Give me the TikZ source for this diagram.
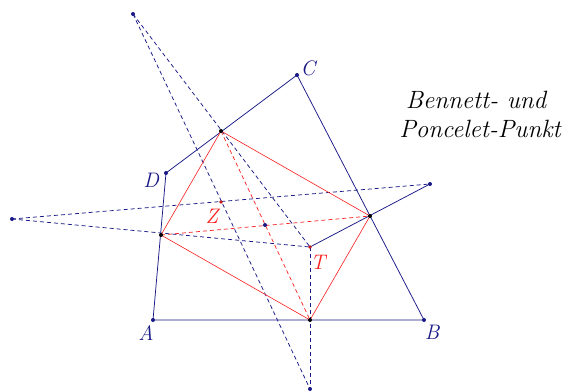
\documentclass[tikz,border=0pt]{standalone}
\begin{document}
\begin{tikzpicture}[x=1pt,y=-1pt,
  navyline/.style={draw=navy,line width=0.75pt},
  navydash/.style={draw=navy,line width=0.75pt,dash pattern=on 4pt off 3pt},
  redline/.style={draw=redc,line width=0.6pt},
  reddash/.style={draw=redc,line width=0.7pt,dash pattern=on 4pt off 3pt},
  dotn/.style={circle,fill=navy,inner sep=0pt,minimum size=4pt},
  dotk/.style={circle,fill=black,inner sep=0pt,minimum size=4pt},
  dotr/.style={circle,fill=redc!80!black,inner sep=0pt,minimum size=3.6pt},
  lbl/.style={font=\fontsize{21}{22}\selectfont\itshape,text=navy,inner sep=0pt},
  rlbl/.style={font=\fontsize{21}{22}\selectfont\itshape,text=redc,inner sep=0pt},
  ttl/.style={font=\fontsize{25}{27}\selectfont\itshape,text=black,inner sep=0pt}]
\definecolor{navy}{RGB}{25,25,135}
\definecolor{redc}{RGB}{250,30,30}
\useasboundingbox (0,0) rectangle (580,391);
\fill[white] (0,0) rectangle (580,391);
% points
\coordinate (A) at (153,320);
\coordinate (B) at (424,320);
\coordinate (C) at (297,75);
\coordinate (D) at (166,173);
\coordinate (P1) at (133,14);
\coordinate (P2) at (12,219);
\coordinate (P3) at (430,184);
\coordinate (P4) at (310,389);
\coordinate (M1) at (221,131);
\coordinate (M2) at (370,216);
\coordinate (M3) at (310,320);
\coordinate (M4) at (161,235);
\coordinate (Z) at (221,202);
\coordinate (T) at (310,247);
\coordinate (S) at (265,225);
% dashed blue lines
\draw[navydash] (P1) -- (P4);
\draw[navydash] (P1) -- (T);
\draw[navydash] (T) -- (P4);
\draw[navydash] (P2) -- (P3);
\draw[navydash] (P2) -- (T);
% blue quadrilateral
\draw[navyline] (A) -- (B) -- (C) -- (D) -- cycle;
\draw[navyline] (T) -- (P3);
% red
\draw[redline] (M1) -- (M2) -- (M3) -- (M4) -- cycle;
\draw[reddash] (M1) -- (M3);
\draw[reddash] (M4) -- (M2);
% dots
\foreach \p in {A,B,C,D,P1,P2,P3,P4,S} \node[dotn] at (\p) {};
\foreach \p in {M1,M2,M3,M4} \node[dotk] at (\p) {};
\node[dotr] at (Z) {};
\node[dotr] at (T) {};
% labels
\node[lbl] (lA) at (146,333) {A};
\node[lbl] (lB) at (432,332) {B};
\node[lbl] (lC) at (308,68) {C};
\node[lbl] (lD) at (151,180) {D};
\node[rlbl] (lZ) at (212,216) {Z};
\node[rlbl] (lT) at (318,262) {T};
\node[ttl] (t1) at (476,100) {Bennett- und};
\node[ttl] (t2) at (480,129) {Poncelet-Punkt};
\end{tikzpicture}
\end{document}
